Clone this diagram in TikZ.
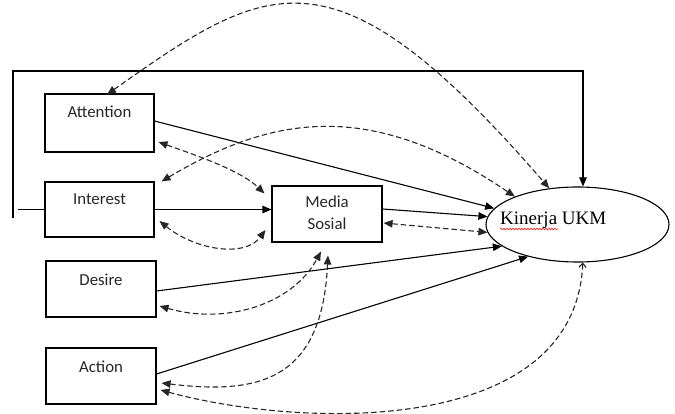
\documentclass[tikz,border=0pt]{standalone}
\usepackage{fontspec}
\newfontfamily\boxfont{Carlito}
\newfontfamily\kinfont{Liberation Serif}
\usetikzlibrary{arrows.meta,calc,shapes.geometric,decorations.pathmorphing}
\begin{document}
\begin{tikzpicture}[x=1pt,y=-1pt,
  box/.style={draw, line width=1.1pt, minimum width=110pt, minimum height=56pt, inner sep=0pt},
  lbl/.style={font=\boxfont\fontsize{16.8}{20}\selectfont, text=black!85, anchor=base, inner sep=0pt},
  ell/.style={draw, line width=1.1pt, ellipse, minimum width=183pt, minimum height=75pt, inner sep=0pt},
  kinlbl/.style={font=\kinfont\fontsize{19}{22}\selectfont, anchor=base west, inner sep=0pt},
  solidline/.style={line width=1.1pt},
  conn/.style={line width=1.1pt, -{Triangle[length=9pt,width=7.5pt]}},
  dconn/.style={line width=1.1pt, black!85, dash pattern=on 5.5pt off 3pt,
    {Triangle[length=9pt,width=7.5pt]}-{Triangle[length=9pt,width=7.5pt]}},
  dconnopen/.style={line width=1.1pt, black!85, dash pattern=on 5.5pt off 3pt,
    {Triangle[length=9pt,width=7.5pt]}-{Straight Barb[length=4pt,width=7pt]}},
]
\useasboundingbox (0,0) rectangle (675,414);

% boxes
\node[box, minimum width=109pt, minimum height=58pt,
  label={[lbl,yshift=-24pt]north:Attention}] (att) at (99.5,123) {};
\node[box, minimum width=109pt, minimum height=55pt,
  label={[lbl,yshift=-23pt]north:Interest}] (int) at (99.5,209.5) {};
\node[box, label={[lbl,yshift=-25pt]north:Desire}] (des) at (101,289) {};
\node[box, label={[lbl,yshift=-25pt]north:Action}] (act) at (101,376) {};
\node[box, label={[lbl,yshift=-22pt]north:Media},
  label={[lbl,yshift=-44pt]north:Sosial}] (med) at (327,214) {};
\node[ell] (kin) at (577.5,224.5) {};
\node[kinlbl] (kint) at (500,225) {Kinerja UKM};
\draw[red, line width=0.5pt, decorate, decoration={snake, amplitude=0.9pt, segment length=3pt}]
  ($(kint.base west)+(0,4)$) -- ($(kint.base west)+(58,4)$);

% frame line
\coordinate (fb) at (13,218);
\coordinate (fc) at (583,71);
\coordinate (stub) at (18,209.5);
\draw[conn] (fb) |- (fc) -- (fc |- kin.north);
\draw[solidline] (int.west) -- (stub);

% solid arrows
\draw[conn] ($(att.east)+(0,-2)$) -- (kin.169);
\draw[conn] (int.east) -- (int.east -| med.west);
\draw[conn] ($(med.east)+(0,-5)$) -- (kin.175);
\draw[conn] ($(des.east)+(0,2)$) -- (kin.196);
\draw[conn] ($(act.east)+(0,-2)$) -- (kin.213);

% dashed arrows
\draw[dconn] ($(att.north)+(7.5,1)$) .. controls (269,-20) and (334,-60) .. (kin.128);
\draw[dconn] ($(int.north east)+(7,0)$) .. controls (273,115) and (371,99) .. (kin.156);
\draw[dconn] ($(att.east)+(4,19)$) .. controls (195,155) and (240,170) .. ($(med.north west)+(-7,8)$);
\draw[dconn] ($(int.east)+(5,11.5)$) .. controls (195,250) and (245,258) .. ($(med.west)+(-6,16)$);
\draw[dconn] ($(des.east)+(3,17)$) .. controls (225,325) and (292,305) .. ($(med.south)+(-6,9)$);
\draw[dconn] ($(act.east)+(5,7)$) .. controls (260,395) and (322,380) .. ($(med.south)+(1,13)$);
\draw[dconnopen] ($(act.east)+(4,14)$) .. controls (300,428) and (575,438) .. (kin.278);
\draw[dconn] ($(med.east)+(1,9)$) -- (kin.185);
\end{tikzpicture}
\end{document}
